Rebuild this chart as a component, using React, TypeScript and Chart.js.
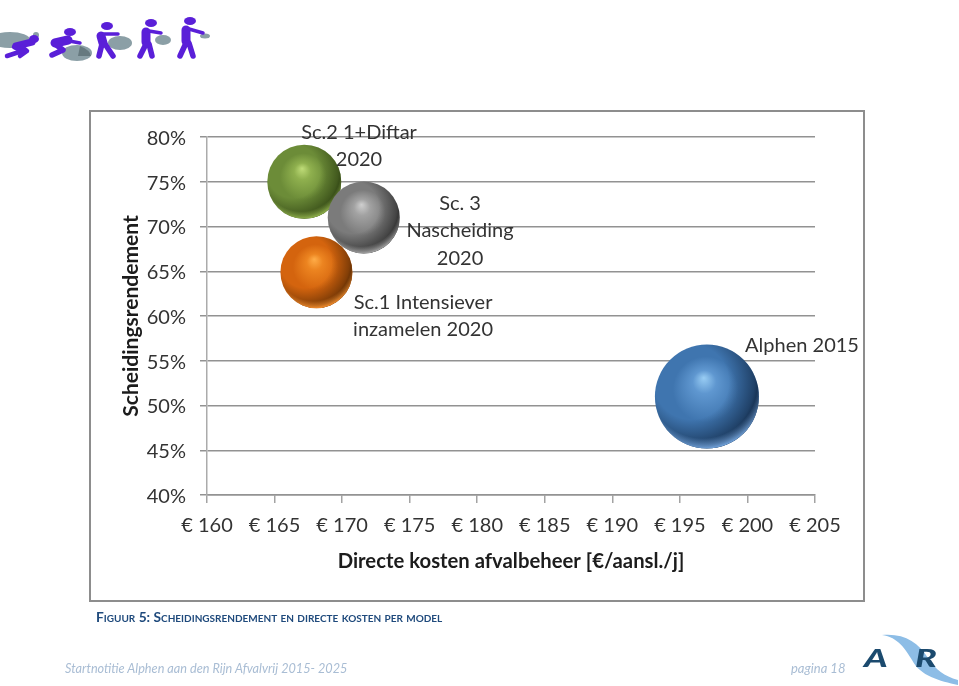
import React, { useEffect, useRef } from "react";
import { Chart, registerables } from "chart.js";

Chart.register(...registerables);

const seriesNames = ["Sc. 3 Nascheiding 2020", "Sc.2 1+Diftar 2020", "Sc.1 Intensiever inzamelen 2020", "Alphen 2015"];
const costs = [171.6, 167.2, 168.1, 197];
const separation = [71, 75, 64.9, 51];
const bubbleSizes = [36, 37, 36, 52];

const labelLines = [["Sc. 3", "Nascheiding", "2020"], ["Sc.2 1+Diftar", "2020"], ["Sc.1 Intensiever", "inzamelen 2020"], ["Alphen 2015"]];
const labelCosts = [178.73, 171.25, 175.99, 204.04];
const labelSeparation = [72.6, 80.55, 61.55, 56.75];

const palette = [
  { light: "#cfcfcf", mid: "#a2a2a2", main: "#7b7b7b", rim: "#a4a4a4", shade: "15,15,15" },
  { light: "#bfdc78", mid: "#8fb04e", main: "#6c8c38", rim: "#8fb04c", shade: "25,40,5" },
  { light: "#ffad48", mid: "#ec8420", main: "#d4640e", rim: "#ee8a2c", shade: "50,25,0" },
  { light: "#99cdf4", mid: "#5f97d0", main: "#3f75af", rim: "#6f9fd6", shade: "2,15,35" },
];

const FONT = "Lato, Carlito, 'Open Sans', sans-serif";
const TEXT = "#333333";

const bubbleFill = (i: number) => (c: any) => {
  const p = palette[i];
  if (c.type !== "data" || !c.raw) return p.main;
  const { x: sx, y: sy } = c.chart.scales;
  if (!sx || !sy) return p.main;
  const cx = sx.getPixelForValue(c.raw.x);
  const cy = sy.getPixelForValue(c.raw.y);
  const r = c.raw.r;
  if (!Number.isFinite(cx) || !Number.isFinite(cy) || !Number.isFinite(r)) return p.main;
  const g = c.chart.ctx.createRadialGradient(cx - 0.06 * r, cy - 0.36 * r, 0, cx, cy, r * 1.02);
  g.addColorStop(0, p.light);
  g.addColorStop(0.22, p.mid);
  g.addColorStop(0.62, p.main);
  g.addColorStop(1, p.main);
  return g;
};

const sphereShade = {
  id: "sphereShade",
  afterDatasetDraw(chart: any, args: any) {
    const i = args.index;
    const el = chart.getDatasetMeta(i).data[0];
    const p = palette[i];
    const r = bubbleSizes[i];
    const c = chart.ctx;
    c.save();
    c.beginPath();
    c.arc(el.x, el.y, r, 0, Math.PI * 2);
    c.clip();
    const ox = el.x - 0.3 * r;
    const oy = el.y - 0.28 * r;
    const dark = c.createRadialGradient(ox, oy, r * 0.72, ox, oy, r * 1.42);
    dark.addColorStop(0, `rgba(${p.shade},0)`);
    dark.addColorStop(0.7, `rgba(${p.shade},0.5)`);
    dark.addColorStop(1, `rgba(${p.shade},0.9)`);
    c.fillStyle = dark;
    c.fillRect(el.x - r, el.y - r, 2 * r, 2 * r);
    const rx = el.x - 0.08 * r;
    const ry = el.y - 0.25 * r;
    const rim = c.createRadialGradient(rx, ry, r * 1.05, rx, ry, r * 1.25);
    rim.addColorStop(0, p.rim + "00");
    rim.addColorStop(1, p.rim + "ff");
    c.fillStyle = rim;
    c.fillRect(el.x - r, el.y - r, 2 * r, 2 * r);
    c.restore();
  },
};

const bubbleLabels = {
  id: "bubbleLabels",
  afterDraw(chart: any) {
    const { x: sx, y: sy } = chart.scales;
    const c = chart.ctx;
    c.save();
    c.fillStyle = TEXT;
    c.font = `20px ${FONT}`;
    c.textAlign = "center";
    c.textBaseline = "middle";
    labelLines.forEach((lines, i) => {
      lines.forEach((t, k) => {
        c.fillText(t, sx.getPixelForValue(labelCosts[i]), sy.getPixelForValue(labelSeparation[i]) + k * 27.5);
      });
    });
    c.restore();
  },
};

export default function App() {
  const ref = useRef<HTMLCanvasElement>(null);
  useEffect(() => {
    const chart = new Chart(ref.current as HTMLCanvasElement, {
      type: "bubble",
      data: {
        datasets: seriesNames.map((name, i) => ({
          label: name,
          data: [{ x: costs[i], y: separation[i], r: bubbleSizes[i] }],
          backgroundColor: bubbleFill(i),
          borderWidth: 0,
          hoverBorderWidth: 0,
          clip: false as any,
        })),
      },
      options: {
        responsive: false,
        animation: false,
        layout: { padding: { top: 137, right: 144, bottom: 0, left: 0 } },
        plugins: { legend: { display: false }, tooltip: { enabled: false } },
        scales: {
          x: {
            type: "linear",
            min: 160,
            max: 205,
            afterFit: (s: any) => { s.height = 191; },
            border: { color: "#939393", width: 1.5 },
            grid: { drawOnChartArea: false, color: "#a3a3a3", lineWidth: 1.5, tickLength: 8 },
            ticks: {
              stepSize: 5,
              autoSkip: false,
              maxRotation: 0,
              padding: 11,
              color: TEXT,
              font: { family: FONT, size: 20 },
              callback: (v: any) => `€ ${v}`,
            },
            title: {
              display: true,
              text: "Directe kosten afvalbeheer [€/aansl./j]",
              color: "#1c1c1c",
              font: { family: FONT, size: 20.3, weight: "bold" },
              padding: { top: 0, bottom: 112 },
            },
          },
          y: {
            type: "linear",
            min: 40,
            max: 80,
            afterFit: (s: any) => { s.width = 207; },
            border: { color: "#ababab", width: 1.5 },
            grid: { color: "#929292", lineWidth: 1.5, tickLength: 7 },
            ticks: {
              stepSize: 5,
              padding: 14,
              labelOffset: 1.5,
              color: TEXT,
              font: { family: FONT, size: 20 },
              callback: (v: any) => `${v}%`,
            },
            title: {
              display: true,
              text: "Scheidingsrendement",
              color: "#1c1c1c",
              font: { family: FONT, size: 21, weight: "bold" },
              padding: { top: 119, bottom: 0 },
            },
          },
        },
      },
      plugins: [sphereShade, bubbleLabels],
    } as any);
    return () => chart.destroy();
  }, []);

  const purple = "#5a1fd8";
  const bag = "#8b9fa6";
  const limb = { stroke: purple, strokeWidth: 5.5, strokeLinecap: "round" as const, strokeLinejoin: "round" as const, fill: "none" };
  const arm = { ...limb, strokeWidth: 3.5 };
  const torso = { ...limb, strokeWidth: 9 };

  return (
    <div style={{ position: "relative", width: 959, height: 686, overflow: "hidden", background: "#fff" }}>
      <style>{`html,body{margin:0;background:#fff;overflow:hidden}`}</style>
      <canvas ref={ref} width={959} height={686} style={{ position: "absolute", left: 0, top: 0, display: "block" }} />
      <div style={{ position: "absolute", left: 89, top: 110, width: 772, height: 488, border: "2px solid #8d8d8d", pointerEvents: "none" }} />

      <svg width={240} height={70} style={{ position: "absolute", left: 0, top: 0, filter: "blur(0.4px)" }}>
        <ellipse cx={10} cy={40} rx={20} ry={8} fill={bag} />
        <ellipse cx={36} cy={35} rx={3} ry={3} fill={bag} />
        <ellipse cx={34} cy={39} rx={5} ry={4} fill={purple} />
        <path d="M16 46 L32 42" {...torso} strokeWidth={7} />
        <path d="M14 47 L22 51 L7 56 M22 47 L27 51 L20 56" {...limb} strokeWidth={4.5} />
        <ellipse cx={77} cy={53} rx={15} ry={8} fill={bag} />
        <path d="M80 46 Q90 50 91 56 L78 56 Z" fill="#66797f" />
        <ellipse cx={70} cy={32} rx={6} ry={4} fill={purple} />
        <path d="M55 43 L68 40" {...torso} />
        <path d="M55 44 L63 50 L52 55" {...limb} />
        <path d="M64 40 L80 43" {...arm} />
        <ellipse cx={120} cy={43} rx={12} ry={7} fill={bag} />
        <ellipse cx={107} cy={26} rx={6} ry={4} fill={purple} />
        <path d="M101 36 L103 43" {...torso} />
        <path d="M102 44 L99 56 M105 44 L113 56" {...limb} />
        <path d="M104 34 L118 34" {...arm} />
        <ellipse cx={163} cy={40} rx={8} ry={5} fill={bag} />
        <ellipse cx={151} cy={23} rx={6} ry={4} fill={purple} />
        <path d="M146 32 L146 42" {...torso} />
        <path d="M146 44 L140 56 M149 44 L152 56" {...limb} />
        <path d="M149 31 L161 33" {...arm} />
        <ellipse cx={205} cy={36} rx={5} ry={2.5} fill={bag} />
        <ellipse cx={190} cy={21} rx={6} ry={4} fill={purple} />
        <path d="M186 30 L186 41" {...torso} />
        <path d="M186 43 L180 56 M189 43 L193 56" {...limb} />
        <path d="M189 29 L203 33" {...arm} />
      </svg>

      <div style={{ position: "absolute", left: 96, top: 608, fontFamily: FONT, fontWeight: 700, fontSize: 13.75, fontVariant: "small-caps", color: "#1f4a7c", whiteSpace: "nowrap" }}>
        Figuur 5: Scheidingsrendement en directe kosten per model
      </div>
      <div style={{ position: "absolute", left: 65, top: 660, fontFamily: FONT, fontStyle: "italic", fontSize: 12.7, color: "#a9bdd4", whiteSpace: "nowrap" }}>
        Startnotitie Alphen aan den Rijn Afvalvrij 2015- 2025
      </div>
      <div style={{ position: "absolute", left: 791, top: 660, fontFamily: FONT, fontStyle: "italic", fontSize: 13, color: "#a9bdd4", whiteSpace: "nowrap" }}>
        pagina 18
      </div>

      <svg width={119} height={66} style={{ position: "absolute", left: 840, top: 620 }}>
        <path d="M42 15 C58 17 66 30 72 40 C80 56 100 61 118 65 L118 60 C104 56 96 50 88 38 C78 22 64 13 42 15 Z" fill="#8dbde6" />
        <g transform="scale(1.5,1)">
          <text x={16} y={47} fontFamily="Lato, sans-serif" fontWeight={900} fontStyle="italic" fontSize={24} fill="#1b4a6e">A</text>
          <text x={50} y={47} fontFamily="Lato, sans-serif" fontWeight={900} fontStyle="italic" fontSize={24} fill="#1b4a6e">R</text>
        </g>
      </svg>
    </div>
  );
}
